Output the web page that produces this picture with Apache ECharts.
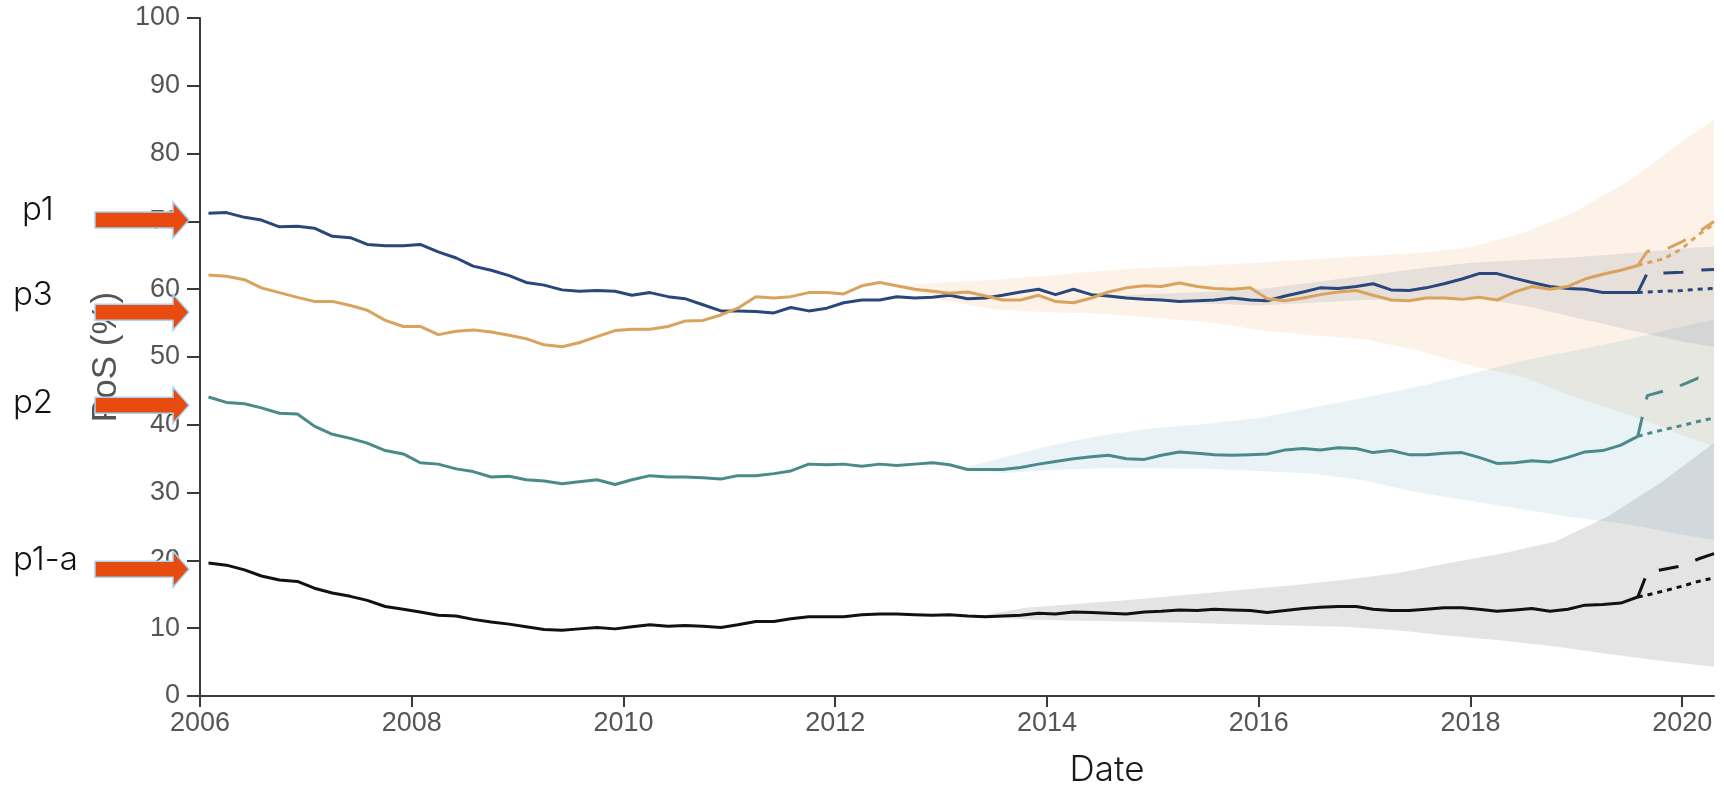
<!DOCTYPE html>
<html>
<head>
<meta charset="utf-8">
<title>PoS over time</title>
<script src="https://cdn.jsdelivr.net/npm/echarts@6/dist/echarts.min.js"></script>
<style>
  html, body { margin: 0; padding: 0; background: #ffffff; }
  #chart { width: 1724px; height: 790px; }
</style>
</head>
<body>
<div id="chart"></div>
<script>
// Observation dates (decimal years, two-month steps)
const months = [
  2006.08, 2006.25, 2006.42, 2006.58, 2006.75, 2006.92,
  2007.08, 2007.25, 2007.42, 2007.58, 2007.75, 2007.92,
  2008.08, 2008.25, 2008.42, 2008.58, 2008.75, 2008.92,
  2009.08, 2009.25, 2009.42, 2009.58, 2009.75, 2009.92,
  2010.08, 2010.25, 2010.42, 2010.58, 2010.75, 2010.92,
  2011.08, 2011.25, 2011.42, 2011.58, 2011.75, 2011.92,
  2012.08, 2012.25, 2012.42, 2012.58, 2012.75, 2012.92,
  2013.08, 2013.25, 2013.42, 2013.58, 2013.75, 2013.92,
  2014.08, 2014.25, 2014.42, 2014.58, 2014.75, 2014.92,
  2015.08, 2015.25, 2015.42, 2015.58, 2015.75, 2015.92,
  2016.08, 2016.25, 2016.42, 2016.58, 2016.75, 2016.92,
  2017.08, 2017.25, 2017.42, 2017.58, 2017.75, 2017.92,
  2018.08, 2018.25, 2018.42, 2018.58, 2018.75, 2018.92,
  2019.08, 2019.25, 2019.42, 2019.58
];

// PoS (%) per series
const p1 = [
  71.2, 71.3, 70.6, 70.2, 69.2, 69.3,
  69.0, 67.8, 67.6, 66.6, 66.4, 66.4,
  66.6, 65.5, 64.6, 63.4, 62.8, 62.0,
  61.0, 60.6, 59.9, 59.7, 59.8, 59.7,
  59.1, 59.5, 58.9, 58.6, 57.7, 56.8,
  56.8, 56.7, 56.5, 57.3, 56.8, 57.2,
  58.0, 58.4, 58.4, 58.9, 58.7, 58.8,
  59.1, 58.6, 58.7, 59.1, 59.6, 60.0,
  59.2, 60.0, 59.2, 59.0, 58.7, 58.5,
  58.4, 58.2, 58.3, 58.4, 58.7, 58.4,
  58.3, 59.0, 59.6, 60.2, 60.1, 60.4,
  60.8, 59.9, 59.8, 60.2, 60.8, 61.5,
  62.3, 62.3, 61.6, 61.0, 60.4, 60.1,
  60.0, 59.5, 59.5, 59.5
];
const p3 = [
  62.1, 61.9, 61.4, 60.2, 59.5, 58.8,
  58.2, 58.2, 57.6, 56.9, 55.4, 54.5,
  54.5, 53.3, 53.8, 54.0, 53.7, 53.2,
  52.7, 51.8, 51.5, 52.1, 53.0, 53.9,
  54.1, 54.1, 54.5, 55.3, 55.4, 56.2,
  57.2, 58.9, 58.7, 58.9, 59.5, 59.5,
  59.3, 60.5, 61.0, 60.5, 60.0, 59.7,
  59.4, 59.6, 59.0, 58.4, 58.4, 59.1,
  58.2, 58.0, 58.7, 59.6, 60.2, 60.5,
  60.4, 60.9, 60.4, 60.1, 60.0, 60.2,
  58.6, 58.3, 58.7, 59.2, 59.6, 59.8,
  59.1, 58.4, 58.3, 58.7, 58.7, 58.5,
  58.8, 58.4, 59.6, 60.4, 60.0, 60.4,
  61.5, 62.2, 62.8, 63.5
];
const p2 = [
  44.1, 43.3, 43.1, 42.5, 41.7, 41.6,
  39.8, 38.6, 38.0, 37.3, 36.2, 35.7,
  34.4, 34.2, 33.5, 33.1, 32.3, 32.4,
  31.9, 31.7, 31.3, 31.6, 31.9, 31.2,
  31.9, 32.5, 32.3, 32.3, 32.2, 32.0,
  32.5, 32.5, 32.8, 33.2, 34.2, 34.1,
  34.2, 33.9, 34.2, 34.0, 34.2, 34.4,
  34.1, 33.4, 33.4, 33.4, 33.7, 34.2,
  34.6, 35.0, 35.3, 35.5, 35.0, 34.9,
  35.5, 36.0, 35.8, 35.6, 35.5, 35.6,
  35.7, 36.3, 36.5, 36.3, 36.6, 36.5,
  35.9, 36.2, 35.6, 35.6, 35.8, 35.9,
  35.2, 34.3, 34.4, 34.7, 34.5, 35.2,
  36.0, 36.2, 37.0, 38.3
];
const p1a = [
  19.6, 19.3, 18.6, 17.7, 17.1, 16.9,
  15.9, 15.2, 14.7, 14.1, 13.2, 12.8,
  12.4, 11.9, 11.8, 11.3, 10.9, 10.6,
  10.2, 9.8, 9.7, 9.9, 10.1, 9.9,
  10.2, 10.5, 10.3, 10.4, 10.3, 10.1,
  10.5, 11.0, 11.0, 11.4, 11.7, 11.7,
  11.7, 12.0, 12.1, 12.1, 12.0, 11.9,
  12.0, 11.8, 11.7, 11.8, 11.9, 12.2,
  12.1, 12.4, 12.3, 12.2, 12.1, 12.4,
  12.5, 12.7, 12.6, 12.8, 12.7, 12.6,
  12.3, 12.6, 12.9, 13.1, 13.2, 13.2,
  12.8, 12.6, 12.6, 12.8, 13.0, 13.0,
  12.8, 12.5, 12.7, 12.9, 12.5, 12.8,
  13.4, 13.5, 13.7, 14.6
];

// Projections: high scenario (dashed) and low scenario (dotted)
const projYears = [2019.58, 2019.67, 2019.83, 2020.0, 2020.15, 2020.3];
const p1High  = [59.5, 62.4, 62.4, 62.5, 62.8, 62.9];
const p1Low   = [59.5, 59.6, 59.7, 59.8, 60.0, 60.1];
const p3High  = [63.5, 65.6, 65.8, 67.0, 68.4, 70.0];
const p3Low   = [63.5, 63.9, 64.5, 66.0, 68.0, 69.6];
const p2High  = [38.3, 44.3, 45.0, 45.9, 46.9, 46.3];
const p2Low   = [38.3, 38.7, 39.3, 39.9, 40.5, 41.0];
const p1aHigh = [14.6, 18.2, 18.7, 19.2, 20.2, 21.0];
const p1aLow  = [14.6, 14.9, 15.5, 16.2, 16.9, 17.4];

// Uncertainty bands
const p3BandYears = [2012.6, 2013.0, 2013.5, 2014.0, 2014.5, 2015.0, 2015.5, 2016.0, 2016.5, 2017.0, 2017.5, 2018.0, 2018.5, 2019.0, 2019.5, 2020.0, 2020.3];
const p3BandHi = [60.5, 61.0, 61.4, 62.0, 62.7, 63.2, 63.5, 63.9, 64.4, 64.9, 65.3, 66.2, 68.3, 71.5, 76.0, 81.8, 85.0];
const p3BandLo = [60.3, 58.4, 57.0, 56.6, 56.4, 55.8, 55.2, 54.0, 53.2, 52.6, 51.0, 48.8, 47.0, 44.0, 41.5, 38.5, 36.8];

const p1BandYears = [2014.5, 2015.5, 2016.0, 2016.5, 2017.0, 2017.5, 2018.0, 2018.5, 2019.0, 2019.5, 2020.0, 2020.3];
const p1BandHi = [59.0, 59.6, 60.0, 61.0, 62.0, 63.0, 63.9, 64.3, 64.7, 65.3, 66.0, 66.3];
const p1BandLo = [58.8, 57.9, 57.6, 58.0, 58.4, 58.6, 58.8, 57.6, 55.8, 54.0, 52.3, 51.5];

const p2BandYears = [2013.2, 2013.6, 2014.0, 2014.5, 2015.0, 2015.5, 2016.0, 2016.5, 2017.0, 2017.5, 2018.0, 2018.5, 2019.0, 2019.5, 2020.0, 2020.3];
const p2BandHi = [33.6, 35.2, 36.8, 38.4, 39.5, 40.1, 41.0, 42.5, 44.0, 45.6, 47.5, 49.5, 51.0, 52.6, 54.5, 55.5];
const p2BandLo = [33.4, 32.9, 33.3, 33.6, 33.6, 33.5, 33.2, 32.8, 31.8, 30.0, 28.8, 27.5, 26.3, 25.3, 23.8, 23.0];

const p1aBandYears = [2013.4, 2013.8, 2014.3, 2014.8, 2015.3, 2015.8, 2016.3, 2016.8, 2017.3, 2017.8, 2018.3, 2018.8, 2019.3, 2019.8, 2020.3];
const p1aBandHi = [11.9, 13.0, 13.6, 14.2, 14.9, 15.6, 16.3, 17.1, 18.1, 19.6, 21.0, 22.8, 26.5, 31.5, 37.3];
const p1aBandLo = [11.7, 11.3, 11.1, 11.0, 10.8, 10.6, 10.4, 10.2, 9.7, 8.9, 8.2, 7.3, 6.2, 5.2, 4.3];

// Axis ticks and callouts
const yearTicks = [2006, 2008, 2010, 2012, 2014, 2016, 2018, 2020];
const arrowLabels = ['p1', 'p3', 'p2', 'p1-a'];
const arrowLevels = [70.2, 56.6, 42.9, 18.7];

const COLORS = {
  p1: '#2a477b',
  p3: '#d9a35e',
  p2: '#4b8a8b',
  p1a: '#111111'
};

const pairs = (xs, ys) => xs.map((x, i) => [x, ys[i]]);

function bandSeries(name, years, lo, hi, fill) {
  const data = years.map((y, i) => [y, lo[i], hi[i]]);
  return {
    type: 'custom',
    name: name,
    silent: true,
    clip: true,
    z: 1,
    data: data,
    encode: { x: 0, y: [1, 2] },
    renderItem: function (params, api) {
      if (params.dataIndex !== 0) return null;
      const top = data.map(d => api.coord([d[0], d[2]]));
      const bottom = data.map(d => api.coord([d[0], d[1]])).reverse();
      return {
        type: 'polygon',
        shape: { points: top.concat(bottom) },
        style: { fill: fill }
      };
    }
  };
}

function lineSeries(name, xs, ys, color, dash) {
  return {
    type: 'line',
    name: name,
    data: pairs(xs, ys),
    showSymbol: false,
    symbol: 'none',
    silent: true,
    z: 3,
    animation: false,
    lineStyle: { color: color, width: 3, type: dash || 'solid', cap: 'butt', join: 'round' }
  };
}

const DASH = [20, 18];
const DOT = [5, 5];

const chart = echarts.init(document.getElementById('chart'), null, { renderer: 'canvas' });

const option = {
  animation: false,
  backgroundColor: '#ffffff',
  grid: { left: 200, right: 10, top: 18, bottom: 94, containLabel: false, outerBoundsMode: 'none' },
  xAxis: {
    type: 'value',
    min: 2006,
    max: 2020.3,
    interval: 2,
    splitLine: { show: false },
    axisLine: { show: true, onZero: false, lineStyle: { color: '#3a3a3a', width: 2 } },
    axisTick: { show: true, length: 11, lineStyle: { color: '#3a3a3a', width: 2 }, customValues: yearTicks },
    axisLabel: {
      show: true,
      margin: 14,
      color: '#555555',
      fontSize: 27,
      fontFamily: 'Liberation Sans, Arial, sans-serif',
      customValues: yearTicks,
      formatter: v => String(Math.round(v))
    }
  },
  yAxis: {
    type: 'value',
    min: 0,
    max: 100,
    interval: 10,
    name: 'PoS (%)',
    nameLocation: 'middle',
    nameGap: 62,
    nameTextStyle: { color: '#555555', fontSize: 35, fontFamily: 'Liberation Sans, Arial, sans-serif' },
    splitLine: { show: false },
    axisLine: { show: true, lineStyle: { color: '#3a3a3a', width: 2 } },
    axisTick: { show: true, length: 13, lineStyle: { color: '#3a3a3a', width: 2 } },
    axisLabel: {
      margin: 20,
      color: '#555555',
      fontSize: 27,
      fontFamily: 'Liberation Sans, Arial, sans-serif'
    }
  },
  series: [
    bandSeries('p3 band', p3BandYears, p3BandLo, p3BandHi, 'rgba(236, 178, 118, 0.17)'),
    bandSeries('p1 band', p1BandYears, p1BandLo, p1BandHi, 'rgba(70, 90, 125, 0.12)'),
    bandSeries('p2 band', p2BandYears, p2BandLo, p2BandHi, 'rgba(105, 165, 185, 0.15)'),
    bandSeries('p1-a band', p1aBandYears, p1aBandLo, p1aBandHi, 'rgba(120, 120, 120, 0.2)'),

    lineSeries('p1', months, p1, COLORS.p1),
    lineSeries('p3', months, p3, COLORS.p3),
    lineSeries('p2', months, p2, COLORS.p2),
    lineSeries('p1-a', months, p1a, COLORS.p1a),

    lineSeries('p1 high', projYears, p1High, COLORS.p1, DASH),
    lineSeries('p1 low', projYears, p1Low, COLORS.p1, DOT),
    lineSeries('p3 high', projYears, p3High, COLORS.p3, DASH),
    lineSeries('p3 low', projYears, p3Low, COLORS.p3, DOT),
    lineSeries('p2 high', projYears, p2High, COLORS.p2, DASH),
    lineSeries('p2 low', projYears, p2Low, COLORS.p2, DOT),
    lineSeries('p1-a high', projYears, p1aHigh, COLORS.p1a, DASH),
    lineSeries('p1-a low', projYears, p1aLow, COLORS.p1a, DOT)
  ]
};

chart.setOption(option);

// Callout arrows pointing at the y axis, with their series labels
const gridLeft = option.grid.left;
const labelPlacement = [
  { x: 22, dy: -10 },
  { x: 13, dy: -17 },
  { x: 13, dy: -2 },
  { x: 13, dy: -9 }
];
const graphics = [];
arrowLevels.forEach((level, i) => {
  const cy = chart.convertToPixel({ yAxisIndex: 0 }, level);
  const x0 = gridLeft - 105, x1 = gridLeft - 27, tip = gridLeft - 11;
  graphics.push({
    type: 'polygon',
    z: 100,
    silent: true,
    shape: {
      points: [
        [x0, cy - 8], [x1, cy - 8], [x1, cy - 18], [tip, cy],
        [x1, cy + 18], [x1, cy + 8], [x0, cy + 8]
      ]
    },
    style: { fill: '#e84b10', stroke: '#a9d3f3', lineWidth: 1.5 }
  });
  graphics.push({
    type: 'text',
    z: 101,
    silent: true,
    x: labelPlacement[i].x,
    y: cy + labelPlacement[i].dy,
    style: {
      text: arrowLabels[i],
      fill: '#111111',
      fontSize: 33,
      fontWeight: 300,
      fontFamily: 'Inter, "Open Sans", sans-serif',
      align: 'left',
      verticalAlign: 'middle'
    }
  });
});
graphics.push({
  type: 'text',
  z: 101,
  silent: true,
  x: 1107,
  y: 770,
  style: {
    text: 'Date',
    fill: '#1a1a1a',
    fontSize: 35,
    fontWeight: 300,
    fontFamily: 'Inter, "Open Sans", sans-serif',
    align: 'center',
    verticalAlign: 'middle'
  }
});
chart.setOption({ graphic: graphics });
</script>
</body>
</html>
